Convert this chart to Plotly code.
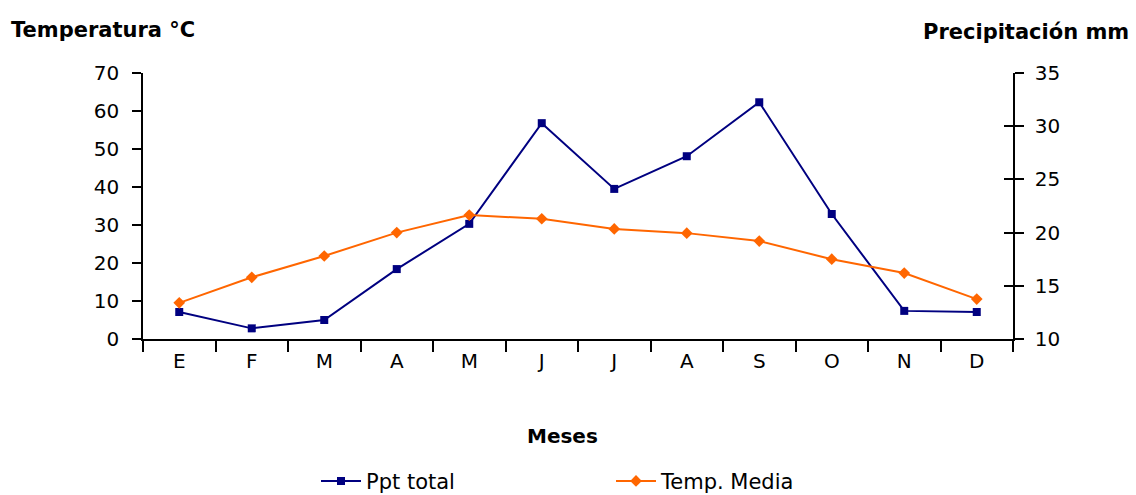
import plotly.graph_objects as go

months = ["E", "F", "M", "A", "M", "J", "J", "A", "S", "O", "N", "D"]
ppt_total = [7.1, 2.8, 5.0, 18.4, 30.3, 56.8, 39.5, 48.1, 62.3, 32.9, 7.4, 7.1]
temp_media = [13.4, 15.8, 17.8, 20.0, 21.65, 21.3, 20.35, 19.95, 19.2, 17.5, 16.2, 13.75]
left_ticks = [0, 10, 20, 30, 40, 50, 60, 70]
right_ticks = [10, 15, 20, 25, 30, 35]

xpos = list(range(len(months)))
bounds = [i - 0.5 for i in range(len(months) + 1)]

W, H = 1136, 495
ML, MR, MT, MB = 143, 123, 73, 155.5
PW, PH = W - ML - MR, H - MT - MB


def px_x(px):
    return (px - ML) / PW


def px_y(py):
    return (H - MB - py) / PH


FONT = "DejaVu Sans, Verdana, sans-serif"
BOLD = "DejaVu Sans, Verdana, sans-serif"

fig = go.Figure()
fig.add_trace(go.Scatter(
    x=xpos, y=ppt_total, name="Ppt total", mode="lines+markers",
    line=dict(color="#000080", width=2),
    marker=dict(symbol="square", size=8, color="#000080"),
    yaxis="y",
))
fig.add_trace(go.Scatter(
    x=xpos, y=temp_media, name="Temp. Media", mode="lines+markers",
    line=dict(color="#FF6600", width=2),
    marker=dict(symbol="diamond", size=9, color="#FF6600"),
    yaxis="y2",
))
fig.add_trace(go.Scatter(
    x=[None], y=[None], yaxis="y3", showlegend=False, hoverinfo="skip", mode="lines",
))

fig.update_layout(
    width=W, height=H,
    margin=dict(l=ML, r=MR, t=MT, b=MB, autoexpand=False),
    paper_bgcolor="white", plot_bgcolor="white",
    font=dict(family=FONT, size=20, color="black"),
    showlegend=True,
    legend=dict(orientation="h", x=px_x(316), xanchor="left", y=px_y(482), yanchor="middle",
                entrywidth=240, font=dict(family=FONT, size=21),
                itemwidth=40, bgcolor="rgba(0,0,0,0)"),
    xaxis=dict(
        range=[-0.5, len(months) - 0.5], tickmode="array", tickvals=xpos, ticktext=months,
        ticks="", showgrid=False, zeroline=False, showline=True, linecolor="black",
        linewidth=1.5, ticklabelstandoff=3,
        minor=dict(tickmode="array", tickvals=bounds, ticks="outside", ticklen=11,
                   tickwidth=1.5, tickcolor="black", showgrid=False),
    ),
    yaxis=dict(
        range=[0, 70], tickmode="array", tickvals=left_ticks, ticks="outside", ticklen=9,
        tickwidth=1.5, tickcolor="black", showgrid=False, zeroline=False, showline=True,
        linecolor="black", linewidth=1.5, ticklabelstandoff=9,
    ),
    yaxis2=dict(
        range=[10, 35], tickmode="array", tickvals=right_ticks, ticks="outside", ticklen=9,
        tickwidth=1.5, tickcolor="black", showgrid=False, zeroline=False, showline=True,
        linecolor="black", linewidth=1.5, overlaying="y", side="right", anchor="x",
        ticklabelstandoff=7,
    ),
    yaxis3=dict(
        range=[10, 35], tickmode="array", tickvals=right_ticks, ticks="inside", ticklen=9,
        tickwidth=1.5, tickcolor="black", showgrid=False, zeroline=False, showline=False,
        showticklabels=False, overlaying="y", side="right", anchor="x",
    ),
    annotations=[
        dict(text="<b>Temperatura °C</b>", x=px_x(9), y=px_y(30), xref="paper", yref="paper",
             showarrow=False, xanchor="left", yanchor="middle",
             font=dict(family=BOLD, size=21)),
        dict(text="<b>Precipitación mm</b>", x=px_x(1131), y=px_y(32), xref="paper", yref="paper",
             showarrow=False, xanchor="right", yanchor="middle",
             font=dict(family=BOLD, size=21)),
        dict(text="<b>Meses</b>", x=px_x(562), y=px_y(437), xref="paper", yref="paper",
             showarrow=False, xanchor="center", yanchor="middle",
             font=dict(family=BOLD, size=20)),
    ],
)

fig.write_html("out.html", post_script="document.body.style.margin='0';",
               config={"displayModeBar": False})
